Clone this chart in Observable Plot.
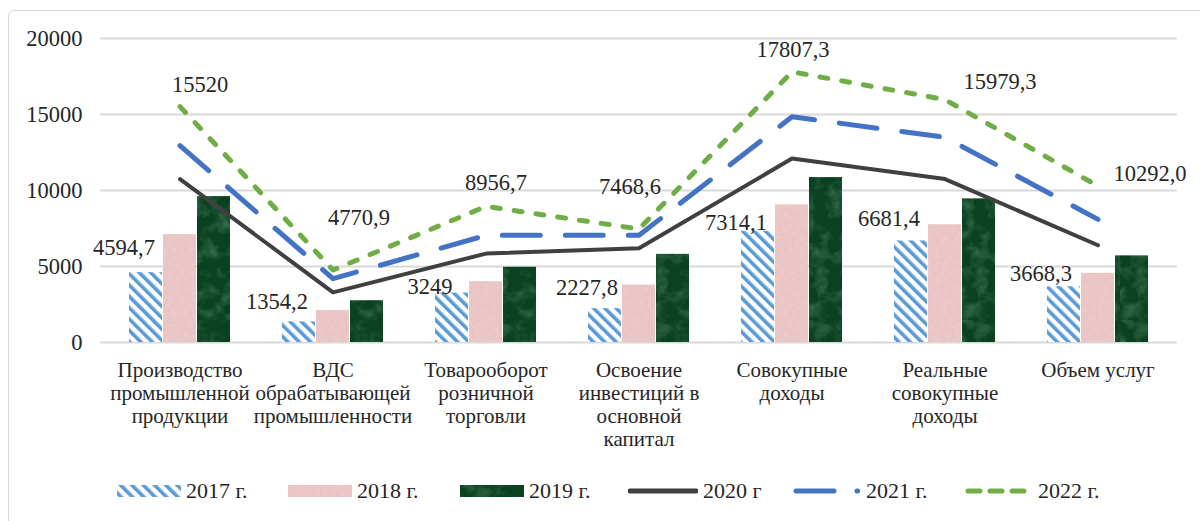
<!DOCTYPE html>
<html><head><meta charset="utf-8">
<script src="https://cdn.jsdelivr.net/npm/d3@7"></script>
<script src="https://cdn.jsdelivr.net/npm/@observablehq/plot@0.6"></script>
<style>
body{margin:0;background:#fff;font-family:"Liberation Serif","DejaVu Serif",serif;}
#frame{position:absolute;left:8px;top:10px;width:1210px;height:600px;border:1px solid #d9d9d9;border-radius:6px;}
#chart{position:absolute;left:0;top:0;}
#legend{position:absolute;top:477px;left:0;width:1200px;height:28px;font-size:22px;color:#262626;white-space:nowrap}
.item{position:absolute;top:0;display:flex;align-items:center;gap:5px;height:28px}
.item svg{display:block}
</style></head><body>
<div id="frame"></div>
<div id="chart"></div>
<div id="legend"></div>
<script>
// ---- data ----
const categories = [
  "Производство\nпромышленной\nпродукции",
  "ВДС\nобрабатывающей\nпромышленности",
  "Товарооборот\nрозничной\nторговли",
  "Освоение\nинвестиций в\nосновной\nкапитал",
  "Совокупные\nдоходы",
  "Реальные\nсовокупные\nдоходы",
  "Объем услуг"
];
const v2017 = [4594.7, 1354.2, 3249, 2227.8, 7314.1, 6681.4, 3668.3];
const v2018 = [7100, 2100, 4000, 3780, 9050, 7750, 4550];
const v2019 = [9600, 2750, 4950, 5800, 10850, 9450, 5700];
const v2020 = [10750, 3300, 5850, 6200, 12100, 10750, 6400];
const v2021 = [12950, 4200, 7050, 7050, 14850, 13500, 8100];
const v2022 = [15520, 4770.9, 8956.7, 7468.6, 17807.3, 15979.3, 10292.0];
const labels2017 = ["4594,7", "1354,2", "3249", "2227,8", "7314,1", "6681,4", "3668,3"];
const labels2022 = ["15520", "4770,9", "8956,7", "7468,6", "17807,3", "15979,3", "10292,0"];
const yTicks = [0, 5000, 10000, 15000, 20000];
const seriesNames = ["2017 г.", "2018 г.", "2019 г.", "2020 г", "2021 г.", "2022 г."];

// ---- table ----
const rows = categories.map((c, i) => ({
  cat: c, v2017: v2017[i], v2018: v2018[i], v2019: v2019[i],
  v2020: v2020[i], v2021: v2021[i], v2022: v2022[i],
  l2017: labels2017[i], l2022: labels2022[i]
}));

// label nudges (pixels) for annotation placement
const nudge2017 = [[-56,-25],[-56,-20],[-56,-6],[-52,-21],[-56,-9],[-56,-22],[-57,-13]];
const nudge2022 = [[20,-22],[26,-52],[10,-24],[-9,-42],[1,-22],[55,-18],[52,-12]];

const textColor = "#262626";
const numSize = 22.5;
const catSize = 21;
const fontFamily = '"Liberation Serif","DejaVu Serif",serif';

const labelMarks = [];
rows.forEach((r, i) => {
  labelMarks.push(Plot.text([r], {x: "cat", y: "v2017", text: "l2017", dx: nudge2017[i][0], dy: nudge2017[i][1], fill: textColor, fontSize: numSize}));
  labelMarks.push(Plot.text([r], {x: "cat", y: "v2022", text: "l2022", dx: nudge2022[i][0], dy: nudge2022[i][1], fill: textColor, fontSize: numSize}));
});

const chart = Plot.plot({
  width: 1200, height: 470,
  marginLeft: 100, marginRight: 23, marginTop: 38, marginBottom: 128,
  style: {fontFamily, fontSize: catSize + "px", color: textColor, background: "transparent", overflow: "visible"},
  x: {domain: categories, paddingInner: 0.337, paddingOuter: 0.1685, label: null},
  y: {domain: [0, 20000], label: null},
  marks: [
    Plot.gridY(yTicks, {stroke: "#d9d9d9", strokeOpacity: 1, strokeWidth: 2}),
    Plot.axisY(yTicks, {tickSize: 0, tickPadding: 18, tickFormat: d => String(d), fontSize: numSize, fill: textColor}),
    Plot.axisX({tickSize: 0, tickPadding: 18, lineHeight: 1.1, fontSize: catSize, fill: textColor}),
    Plot.barY(rows, {x: "cat", y: "v2017", fill: "url(#p2017)", insetRight: 68}),
    Plot.barY(rows, {x: "cat", y: "v2018", fill: "url(#p2018)", insetLeft: 34, insetRight: 34}),
    Plot.barY(rows, {x: "cat", y: "v2019", fill: "url(#p2019)", insetLeft: 68}),
    Plot.line(rows, {x: "cat", y: "v2020", stroke: "#404040", strokeWidth: 4, strokeLinejoin: "round"}),
    Plot.line(rows, {x: "cat", y: "v2021", stroke: "#4472c4", strokeWidth: 5, strokeDasharray: "38 25", strokeLinecap: "round", strokeLinejoin: "round"}),
    Plot.line(rows, {x: "cat", y: "v2022", stroke: "#70ad47", strokeWidth: 5, strokeDasharray: "8 14", strokeLinecap: "round", strokeLinejoin: "round"}),
    ...labelMarks
  ]
});

// patterns
const ns = "http://www.w3.org/2000/svg";
const defs = document.createElementNS(ns, "defs");
defs.innerHTML = `
  <pattern id="p2017" patternUnits="userSpaceOnUse" width="8" height="8" patternTransform="rotate(-45)">
    <rect width="8" height="8" fill="#ffffff"/>
    <rect width="3.6" height="8" fill="#5b9bd5"/>
  </pattern>
  <filter id="noisePink" x="0" y="0" width="100%" height="100%">
    <feTurbulence type="fractalNoise" baseFrequency="0.25" numOctaves="2" seed="4"/>
    <feColorMatrix type="matrix" values="0 0 0 0 0.93  0 0 0 0 0.8  0 0 0 0 0.8  0 0 0 0.9 -0.3"/>
  </filter>
  <pattern id="p2018" patternUnits="userSpaceOnUse" width="120" height="120">
    <rect width="120" height="120" fill="#eac3c3"/>
    <rect width="120" height="120" filter="url(#noisePink)" opacity="0.5"/>
  </pattern>
  <filter id="noiseGreen" x="0" y="0" width="100%" height="100%">
    <feTurbulence type="fractalNoise" baseFrequency="0.07" numOctaves="4" seed="7"/>
    <feColorMatrix type="matrix" values="0 0 0 0 0.3  0 0 0 0 0.6  0 0 0 0 0.4  0 0 0 1.6 -0.7"/>
  </filter>
  <pattern id="p2019" patternUnits="userSpaceOnUse" width="160" height="160">
    <rect width="160" height="160" fill="#0a4120"/>
    <rect width="160" height="160" filter="url(#noiseGreen)" opacity="0.45"/>
  </pattern>`;
chart.insertBefore(defs, chart.firstChild);
document.getElementById("chart").appendChild(chart);

// legend
const legend = document.getElementById("legend");
const legendLeft = [117, 288, 460, 628, 793, 965];
const swatches = [
  `<svg width="64" height="14"><rect x="0" y="1" width="64" height="12" fill="url(#p2017)"/></svg>`,
  `<svg width="64" height="14"><rect x="0" y="1" width="64" height="12" fill="url(#p2018)"/></svg>`,
  `<svg width="64" height="14"><rect x="0" y="1" width="64" height="12" fill="url(#p2019)"/></svg>`,
  `<svg width="70" height="14"><line x1="2" y1="7" x2="68" y2="7" stroke="#404040" stroke-width="5" stroke-linecap="round"/></svg>`,
  `<svg width="68" height="14"><line x1="3" y1="7" x2="64.5" y2="7" stroke="#4472c4" stroke-width="5" stroke-dasharray="38 23" stroke-linecap="round"/></svg>`,
  `<svg width="68" height="14"><line x1="3" y1="7" x2="64" y2="7" stroke="#70ad47" stroke-width="5" stroke-dasharray="12 10" stroke-linecap="round"/></svg>`
];
seriesNames.forEach((name, i) => {
  const item = document.createElement("div");
  item.className = "item";
  item.style.left = legendLeft[i] + "px";
  item.innerHTML = swatches[i] + `<span>${name}</span>`;
  legend.appendChild(item);
});
</script>
</body></html>
